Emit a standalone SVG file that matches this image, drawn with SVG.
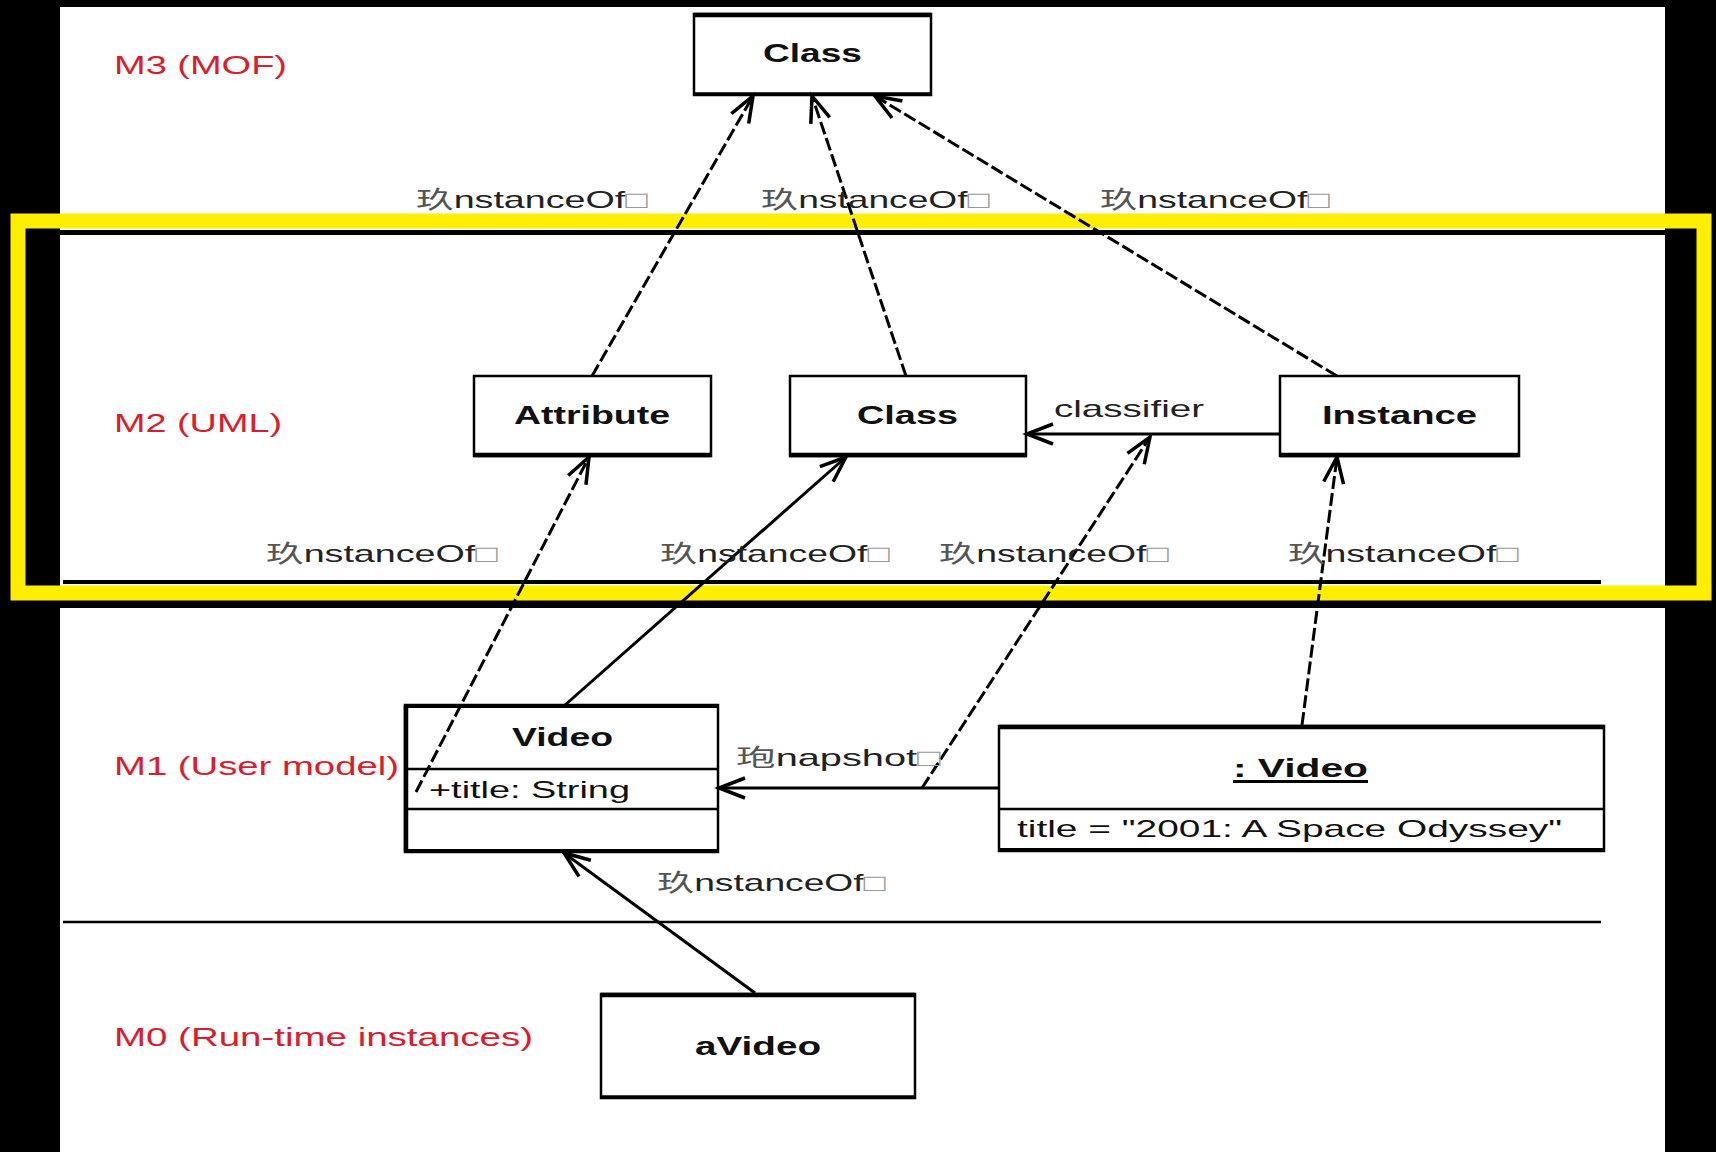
<svg xmlns="http://www.w3.org/2000/svg" width="1716" height="1152" viewBox="0 0 1716 1152">
  <style>
    .box { fill: #ffffff; stroke: #000000; stroke-width: 2.5; }
    .edge { stroke: #000000; stroke-linecap: butt; }
    .conn { fill: none; stroke: #000000; stroke-width: 3; }
    .dash { stroke-dasharray: 13 4; }
    .name { font-family: "Liberation Sans", Arial, sans-serif; font-weight: bold; font-size: 25px; fill: #111111; }
    .attr { font-family: "Liberation Sans", Arial, sans-serif; font-size: 24px; fill: #111111; }
    .level { font-family: "Liberation Sans", Arial, sans-serif; font-size: 25px; fill: #dc1c2c; }
    .lbl { font-family: "Liberation Sans", Arial, "Noto Sans CJK SC", sans-serif; font-size: 24px; fill: #222222; }
    .lbl .cjk { fill: #555555; }
    .lbl .box-glyph { fill: #999999; }
  </style>
  <defs>
    <marker id="open" markerUnits="userSpaceOnUse" markerWidth="40" markerHeight="30" viewBox="-30 -15 34 30" refX="0" refY="0" orient="auto">
      <path d="M -26 -10 L 0 0 L -26 10" fill="none" stroke="#000000" stroke-width="3.5" stroke-linejoin="miter"/>
    </marker>
  </defs>

  <!-- page background and frame -->
  <rect x="0" y="0" width="1716" height="1152" fill="#000000"/>
  <rect x="60" y="7" width="1605" height="1145" fill="#ffffff"/>
  <rect x="0" y="600" width="1716" height="8" fill="#000000"/>
  <line x1="24" y1="232.5" x2="1696" y2="232.5" stroke="#000000" stroke-width="5"/>
  <rect x="18" y="221" width="1686" height="372" fill="none" stroke="#ffee00" stroke-width="15"/>

  <!-- layer separators -->
  <line x1="63" y1="582" x2="1601" y2="582" stroke="#000000" stroke-width="4"/>
  <line x1="63" y1="922" x2="1601" y2="922" stroke="#000000" stroke-width="2.5"/>

  <!-- metalevel captions -->
  <g id="levels">
    <text class="level" x="114" y="74" textLength="173" lengthAdjust="spacingAndGlyphs">M3 (MOF)</text>
    <text class="level" x="114" y="432" textLength="168" lengthAdjust="spacingAndGlyphs">M2 (UML)</text>
    <text class="level" x="114" y="775" textLength="285" lengthAdjust="spacingAndGlyphs">M1 (User model)</text>
    <text class="level" x="114" y="1046" textLength="419" lengthAdjust="spacingAndGlyphs">M0 (Run-time instances)</text>
  </g>

  <!-- M3 -->
  <g id="mof-class">
    <rect class="box" x="694" y="14" width="237" height="81"/>
    <line class="edge" x1="694" y1="15" x2="931" y2="15" stroke-width="4.5"/>
    <line class="edge" x1="694" y1="94" x2="931" y2="94" stroke-width="3.5"/>
    <text class="name" x="763" y="62" textLength="99" lengthAdjust="spacingAndGlyphs">Class</text>
  </g>

  <!-- M2 -->
  <g id="uml-attribute">
    <rect class="box" x="474" y="376" width="237" height="80"/>
    <line class="edge" x1="474" y1="455" x2="711" y2="455" stroke-width="4.5"/>
    <text class="name" x="514" y="424" textLength="156" lengthAdjust="spacingAndGlyphs">Attribute</text>
  </g>
  <g id="uml-class">
    <rect class="box" x="790" y="376" width="236" height="80"/>
    <line class="edge" x1="790" y1="455" x2="1026" y2="455" stroke-width="4.5"/>
    <text class="name" x="857" y="424" textLength="101" lengthAdjust="spacingAndGlyphs">Class</text>
  </g>
  <g id="uml-instance">
    <rect class="box" x="1280" y="376" width="239" height="80"/>
    <line class="edge" x1="1280" y1="455" x2="1519" y2="455" stroke-width="4.5"/>
    <text class="name" x="1322" y="424" textLength="155" lengthAdjust="spacingAndGlyphs">Instance</text>
  </g>

  <!-- M1 -->
  <g id="video-class">
    <rect class="box" x="405" y="705" width="313" height="147"/>
    <line class="edge" x1="405" y1="706" x2="718" y2="706" stroke-width="4"/>
    <line class="edge" x1="405" y1="851" x2="718" y2="851" stroke-width="4"/>
    <line class="edge" x1="406" y1="705" x2="406" y2="852" stroke-width="4.5"/>
    <line class="edge" x1="405" y1="769" x2="718" y2="769" stroke-width="2.5"/>
    <line class="edge" x1="405" y1="809" x2="718" y2="809" stroke-width="2.5"/>
    <text class="name" x="512" y="746" textLength="101" lengthAdjust="spacingAndGlyphs">Video</text>
    <text class="attr" x="429" y="798" textLength="201" lengthAdjust="spacingAndGlyphs">+title: String</text>
  </g>
  <g id="video-object">
    <rect class="box" x="999" y="726" width="605" height="125"/>
    <line class="edge" x1="999" y1="727" x2="1604" y2="727" stroke-width="4.5"/>
    <line class="edge" x1="999" y1="850" x2="1604" y2="850" stroke-width="4"/>
    <line class="edge" x1="999" y1="809" x2="1604" y2="809" stroke-width="2.5"/>
    <text class="name" x="1233" y="777" textLength="135" lengthAdjust="spacingAndGlyphs">: Video</text>
    <line class="edge" x1="1233" y1="781.5" x2="1368" y2="781.5" stroke-width="3"/>
    <text class="attr" x="1017" y="837" textLength="545" lengthAdjust="spacingAndGlyphs">title = "2001: A Space Odyssey"</text>
  </g>

  <!-- M0 -->
  <g id="avideo">
    <rect class="box" x="601" y="994" width="314" height="104"/>
    <line class="edge" x1="601" y1="995" x2="915" y2="995" stroke-width="4.5"/>
    <line class="edge" x1="601" y1="1097" x2="915" y2="1097" stroke-width="3.5"/>
    <text class="name" x="695" y="1055" textLength="126" lengthAdjust="spacingAndGlyphs">aVideo</text>
  </g>

  <!-- connectors, drawn over the boxes -->
  <g id="connectors">
    <path class="conn dash" d="M 592 376 L 753 96" marker-end="url(#open)"/>
    <path class="conn dash" d="M 906 376 L 812 96" marker-end="url(#open)"/>
    <path class="conn dash" d="M 1337 376 L 875 96" marker-end="url(#open)"/>
    <path class="conn dash" d="M 416 792 L 589 457" marker-end="url(#open)"/>
    <path class="conn" d="M 565 705 L 846 457" marker-end="url(#open)"/>
    <path class="conn dash" d="M 922 788 L 1150 437" marker-end="url(#open)"/>
    <path class="conn dash" d="M 1302 725 L 1337 457" marker-end="url(#open)"/>
    <path class="conn" d="M 1280 434 L 1027 434" marker-end="url(#open)"/>
    <path class="conn" d="M 999 788 L 719 788" marker-end="url(#open)"/>
    <path class="conn" d="M 755 993 L 564 853" marker-end="url(#open)"/>

    <text class="lbl" x="416" y="208" textLength="232" lengthAdjust="spacingAndGlyphs"><tspan class="cjk">玖</tspan>nstanceOf<tspan class="box-glyph">□</tspan></text>
    <text class="lbl" x="761" y="208" textLength="229" lengthAdjust="spacingAndGlyphs"><tspan class="cjk">玖</tspan>nstanceOf<tspan class="box-glyph">□</tspan></text>
    <text class="lbl" x="1100" y="208" textLength="230" lengthAdjust="spacingAndGlyphs"><tspan class="cjk">玖</tspan>nstanceOf<tspan class="box-glyph">□</tspan></text>

    <text class="lbl" x="266" y="562" textLength="232" lengthAdjust="spacingAndGlyphs"><tspan class="cjk">玖</tspan>nstanceOf<tspan class="box-glyph">□</tspan></text>
    <text class="lbl" x="660" y="562" textLength="230" lengthAdjust="spacingAndGlyphs"><tspan class="cjk">玖</tspan>nstanceOf<tspan class="box-glyph">□</tspan></text>
    <text class="lbl" x="939" y="562" textLength="230" lengthAdjust="spacingAndGlyphs"><tspan class="cjk">玖</tspan>nstanceOf<tspan class="box-glyph">□</tspan></text>
    <text class="lbl" x="1288" y="562" textLength="231" lengthAdjust="spacingAndGlyphs"><tspan class="cjk">玖</tspan>nstanceOf<tspan class="box-glyph">□</tspan></text>

    <text class="lbl" x="1054" y="417" textLength="150" lengthAdjust="spacingAndGlyphs">classifier</text>
    <text class="lbl" x="736" y="766" textLength="205" lengthAdjust="spacingAndGlyphs"><tspan class="cjk">玸</tspan>napshot<tspan class="box-glyph">□</tspan></text>
    <text class="lbl" x="657" y="891" textLength="229" lengthAdjust="spacingAndGlyphs"><tspan class="cjk">玖</tspan>nstanceOf<tspan class="box-glyph">□</tspan></text>
  </g>
</svg>
